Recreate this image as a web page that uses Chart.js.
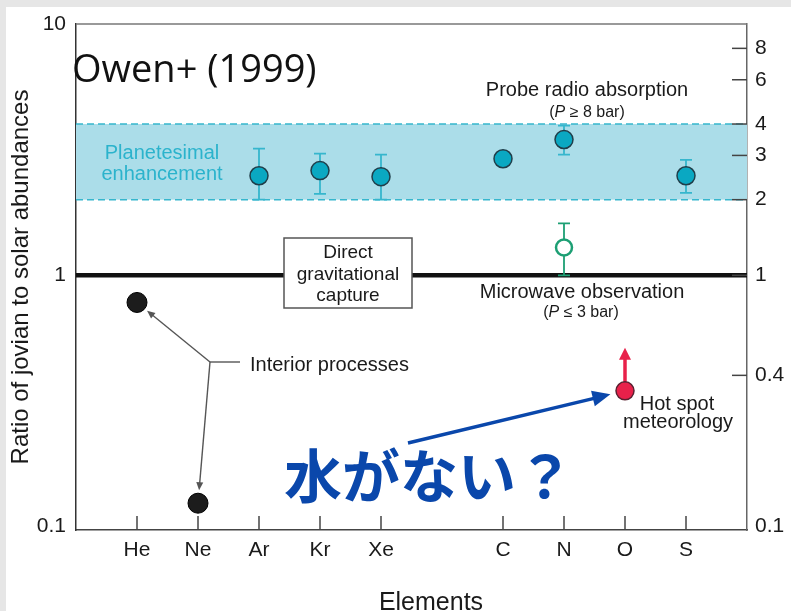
<!DOCTYPE html>
<html>
<head>
<meta charset="utf-8">
<script src="https://cdn.jsdelivr.net/npm/chart.js@4.4.0/dist/chart.umd.min.js"></script>
<style>
  html, body { margin: 0; padding: 0; background: #e6e6e6; }
  #wrap { position: absolute; left: 6px; top: 7px; width: 785px; height: 604px; background: #fff; }
  canvas { display: block; }
</style>
</head>
<body>
<div id="wrap"><canvas id="chart" width="785" height="604"></canvas></div>
<script>
/* ── data ── */
const slots = ['', 'He', 'Ne', 'Ar', 'Kr', 'Xe', '', 'C', 'N', 'O', 'S', ''];

const interiorEl  = ['He', 'Ne'];
const interiorVal = [0.78, 0.124];

const probeEl   = ['Ar', 'Kr', 'Xe', 'C', 'N', 'S'];
const probeVal  = [2.49, 2.61, 2.47, 2.91, 3.47, 2.49];
const probeLow  = [2.0, 2.11, 2.0, null, 3.02, 2.13];
const probeHigh = [3.19, 3.05, 3.02, null, 3.94, 2.88];

const microEl   = ['N'];
const microVal  = [1.29];
const microLow  = [1.0];
const microHigh = [1.61];

const hotEl    = ['O'];
const hotVal   = [0.347];
const hotLimit = [0.515];

const bandRange  = [2, 4];
const solarLevel = 1;

const leftTicks  = [0.1, 1, 10];
const rightTicks = [0.1, 0.4, 1, 2, 3, 4, 6, 8];

const SANS = '"Liberation Sans", Arial, Helvetica, sans-serif';
const COL = {
  ink:    '#1a1a1a',
  cyan:   '#0aa8c2',
  cyanLn: '#36b6cd',
  band:   '#abdde9',
  green:  '#1d9f74',
  red:    '#e8214a',
  blue:   '#0a47ab',
  gray:   '#444',
};

const pts = (els, vals) => els.map((e, i) => ({ x: e, y: vals[i] }));

function arrowHead(ctx, x0, y0, x1, y1, len, half) {
  const a = Math.atan2(y1 - y0, x1 - x0);
  ctx.beginPath();
  ctx.moveTo(x1, y1);
  ctx.lineTo(x1 - len * Math.cos(a) + half * Math.sin(a), y1 - len * Math.sin(a) - half * Math.cos(a));
  ctx.lineTo(x1 - len * Math.cos(a) - half * Math.sin(a), y1 - len * Math.sin(a) + half * Math.cos(a));
  ctx.closePath();
  ctx.fill();
}

// line from (x0,y0) toward (x1,y1), stopping `gap` px short, with a head
function arrowTo(ctx, x0, y0, x1, y1, gap, width, color, len, half) {
  const d = Math.hypot(x1 - x0, y1 - y0);
  const ex = x1 - (x1 - x0) * gap / d, ey = y1 - (y1 - y0) * gap / d;
  const k = (len * 0.7) / Math.hypot(ex - x0, ey - y0);
  const sx = ex - (ex - x0) * k, sy = ey - (ey - y0) * k;
  ctx.strokeStyle = color; ctx.fillStyle = color; ctx.lineWidth = width;
  ctx.beginPath(); ctx.moveTo(x0, y0); ctx.lineTo(sx, sy); ctx.stroke();
  arrowHead(ctx, x0, y0, ex, ey, len, half);
}

function text(ctx, str, x, y, font, color, align) {
  ctx.font = font; ctx.fillStyle = color; ctx.textAlign = align || 'center';
  ctx.textBaseline = 'alphabetic';
  ctx.fillText(str, x, y);
}

/* ── band, solar line, error bars (behind the points) ── */
const underlay = {
  id: 'underlay',
  beforeDatasetsDraw(chart) {
    const { ctx, chartArea: ca, scales: { x, y } } = chart;
    ctx.save();
    const yHi = y.getPixelForValue(bandRange[1]), yLo = y.getPixelForValue(bandRange[0]);
    ctx.fillStyle = COL.band;
    ctx.fillRect(ca.left, yHi, ca.right - ca.left, yLo - yHi);
    ctx.strokeStyle = COL.cyanLn; ctx.lineWidth = 1.5; ctx.setLineDash([7, 4]);
    [yHi, yLo].forEach(py => { ctx.beginPath(); ctx.moveTo(ca.left, py); ctx.lineTo(ca.right, py); ctx.stroke(); });
    ctx.setLineDash([]);

    const y1 = y.getPixelForValue(solarLevel);
    ctx.strokeStyle = '#111'; ctx.lineWidth = 4.5;
    ctx.beginPath(); ctx.moveTo(ca.left, y1); ctx.lineTo(ca.right, y1); ctx.stroke();

    // box on the solar line
    const bx = ca.left + 208, by = ca.top + 214;
    ctx.fillStyle = '#fff'; ctx.fillRect(bx, by, 128, 70);
    ctx.strokeStyle = '#555'; ctx.lineWidth = 1.5; ctx.strokeRect(bx, by, 128, 70);
    const bf = '19px ' + SANS;
    text(ctx, 'Direct', bx + 64, ca.top + 234, bf, COL.ink);
    text(ctx, 'gravitational', bx + 64, ca.top + 256, bf, COL.ink);
    text(ctx, 'capture', bx + 64, ca.top + 277, bf, COL.ink);

    const bars = (els, lo, hi, color) => {
      ctx.strokeStyle = color; ctx.lineWidth = 1.8;
      els.forEach((e, i) => {
        if (lo[i] == null) return;
        const px = x.getPixelForValue(slots.indexOf(e));
        const a = y.getPixelForValue(lo[i]), b = y.getPixelForValue(hi[i]);
        ctx.beginPath();
        ctx.moveTo(px, a); ctx.lineTo(px, b);
        ctx.moveTo(px - 6, a); ctx.lineTo(px + 6, a);
        ctx.moveTo(px - 6, b); ctx.lineTo(px + 6, b);
        ctx.stroke();
      });
    };
    bars(probeEl, probeLow, probeHigh, COL.cyanLn);
    bars(microEl, microLow, microHigh, COL.green);

    // lower-limit arrow on O
    hotEl.forEach((e, i) => {
      const px = x.getPixelForValue(slots.indexOf(e));
      const a = y.getPixelForValue(hotVal[i]) - 9, b = y.getPixelForValue(hotLimit[i]);
      ctx.strokeStyle = COL.red; ctx.fillStyle = COL.red; ctx.lineWidth = 3.5;
      ctx.beginPath(); ctx.moveTo(px, a); ctx.lineTo(px, b + 9); ctx.stroke();
      arrowHead(ctx, px, a, px, b, 12, 6);
    });
    ctx.restore();
  },

  /* ── frame, inward ticks, labels, arrows ── */
  afterDatasetsDraw(chart) {
    const { ctx, chartArea: ca, scales: { x, y, y2 } } = chart;
    ctx.save();
    ctx.strokeStyle = '#777'; ctx.lineWidth = 1.3;
    ctx.beginPath(); ctx.moveTo(ca.left, ca.top); ctx.lineTo(ca.right, ca.top); ctx.stroke();

    ctx.strokeStyle = COL.gray; ctx.lineWidth = 1.5;
    slots.forEach((s, i) => {
      if (!s) return;
      const px = x.getPixelForValue(i);
      ctx.beginPath(); ctx.moveTo(px, ca.bottom); ctx.lineTo(px, ca.bottom - 14); ctx.stroke();
    });
    rightTicks.forEach(v => {
      if (v === 0.1) return;
      const py = y2.getPixelForValue(v);
      ctx.beginPath(); ctx.moveTo(ca.right - 15, py); ctx.lineTo(ca.right, py); ctx.stroke();
    });

    // interior-process pointers
    const jx = ca.left + 134, jy = ca.top + 338;
    ctx.strokeStyle = '#555'; ctx.lineWidth = 1.4;
    ctx.beginPath(); ctx.moveTo(jx, jy); ctx.lineTo(jx + 30, jy); ctx.stroke();
    interiorEl.forEach((e, i) => {
      const px = x.getPixelForValue(slots.indexOf(e)), py = y.getPixelForValue(interiorVal[i]);
      arrowTo(ctx, jx, jy, px, py, 13, 1.4, '#555', 8, 3.5);
    });

    // blue pointer to the hot-spot point
    hotEl.forEach((e, i) => {
      const px = x.getPixelForValue(slots.indexOf(e)), py = y.getPixelForValue(hotVal[i]);
      arrowTo(ctx, ca.left + 332, ca.top + 419, px, py, 15, 3.4, COL.blue, 18, 8);
    });

    text(ctx, 'Owen+ (1999)', ca.left - 4, ca.top + 58, '38px "Open Sans", "Noto Sans", sans-serif', '#111', 'left');

    const f20 = '20px ' + SANS, f16 = '16px ' + SANS;
    text(ctx, 'Planetesimal', ca.left + 86, ca.top + 135, f20, '#2bb3cc');
    text(ctx, 'enhancement', ca.left + 86, ca.top + 156, f20, '#2bb3cc');

    text(ctx, 'Probe radio absorption', ca.left + 511, ca.top + 72, f20, COL.ink);
    text(ctx, 'Microwave observation', ca.left + 506, ca.top + 274, f20, COL.ink);
    const sub = (op, num, cx, by) => {
      const parts = [['(', f16], ['P', 'italic ' + f16], [' ' + op + ' ' + num + ' bar)', f16]];
      let w = 0;
      parts.forEach(p => { ctx.font = p[1]; w += ctx.measureText(p[0]).width; });
      let cx0 = cx - w / 2;
      parts.forEach(p => { text(ctx, p[0], cx0, by, p[1], COL.ink, 'left'); ctx.font = p[1]; cx0 += ctx.measureText(p[0]).width; });
    };
    sub('≥', '8', ca.left + 511, ca.top + 93);
    sub('≤', '3', ca.left + 505, ca.top + 293);

    text(ctx, 'Hot spot', ca.left + 601, ca.top + 386, f20, COL.ink);
    text(ctx, 'meteorology', ca.left + 602, ca.top + 404, f20, COL.ink);
    text(ctx, 'Interior processes', ca.left + 174, ca.top + 347, f20, COL.ink, 'left');

    text(ctx, 'Elements', ca.left + 355, ca.top + 586, '25px ' + SANS, COL.ink);

    ctx.font = 'bold 58px "Noto Sans CJK JP", sans-serif';
    ctx.fillStyle = COL.blue; ctx.textAlign = 'left'; ctx.textBaseline = 'ideographic';
    ctx.fillText('水がない？', ca.left + 208, ca.top + 481);
    ctx.restore();
  },
};

Chart.defaults.font.family = SANS;
Chart.defaults.color = COL.ink;

new Chart(document.getElementById('chart'), {
  type: 'line',
  data: {
    labels: slots,
    datasets: [
      { data: pts(interiorEl, interiorVal), showLine: false, pointRadius: 10,
        pointBackgroundColor: '#1c1c1c', pointBorderColor: '#000', pointBorderWidth: 1 },
      { data: pts(probeEl, probeVal), showLine: false, pointRadius: 9,
        pointBackgroundColor: COL.cyan, pointBorderColor: '#1f3e4a', pointBorderWidth: 1.5 },
      { data: pts(microEl, microVal), showLine: false, pointRadius: 8,
        pointBackgroundColor: '#fff', pointBorderColor: COL.green, pointBorderWidth: 2.5 },
      { data: pts(hotEl, hotVal), showLine: false, pointRadius: 9,
        pointBackgroundColor: COL.red, pointBorderColor: '#5a2030', pointBorderWidth: 1.5 },
    ],
  },
  options: {
    responsive: false, animation: false,
    layout: { padding: { top: 17, left: 0, right: 0, bottom: 0 } },
    plugins: { legend: { display: false }, tooltip: { enabled: false } },
    scales: {
      x: {
        type: 'category', position: 'bottom', offset: false,
        grid: { display: false, drawTicks: false },
        border: { display: true, color: COL.gray, width: 1.5 },
        ticks: { autoSkip: false, maxRotation: 0, padding: 8, color: COL.ink, font: { size: 21 } },
        afterFit: s => { s.height = 81; },
      },
      y: {
        type: 'logarithmic', position: 'left', min: 0.097, max: 10,
        grid: { display: false, drawTicks: false },
        border: { display: true, color: '#333', width: 1.5 },
        afterBuildTicks: s => { s.ticks = leftTicks.map(v => ({ value: v })); },
        ticks: { padding: 10, color: COL.ink, font: { size: 21, lineHeight: 0.6 }, callback: v => String(v) },
        title: { display: true, text: 'Ratio of jovian to solar abundances', color: COL.ink,
                 font: { size: 24 }, padding: { top: 1, bottom: 0 } },
        afterFit: s => { s.width = 70; },
      },
      y2: {
        type: 'logarithmic', position: 'right', min: 0.097, max: 10,
        grid: { display: false, drawTicks: false },
        border: { display: true, color: '#666', width: 1.5 },
        afterBuildTicks: s => { s.ticks = rightTicks.map(v => ({ value: v })); },
        ticks: { padding: 8, color: COL.ink, font: { size: 21, lineHeight: 0.6 }, callback: v => String(v) },
        afterFit: s => { s.width = 44; },
      },
    },
  },
  plugins: [underlay],
});
</script>
</body>
</html>
